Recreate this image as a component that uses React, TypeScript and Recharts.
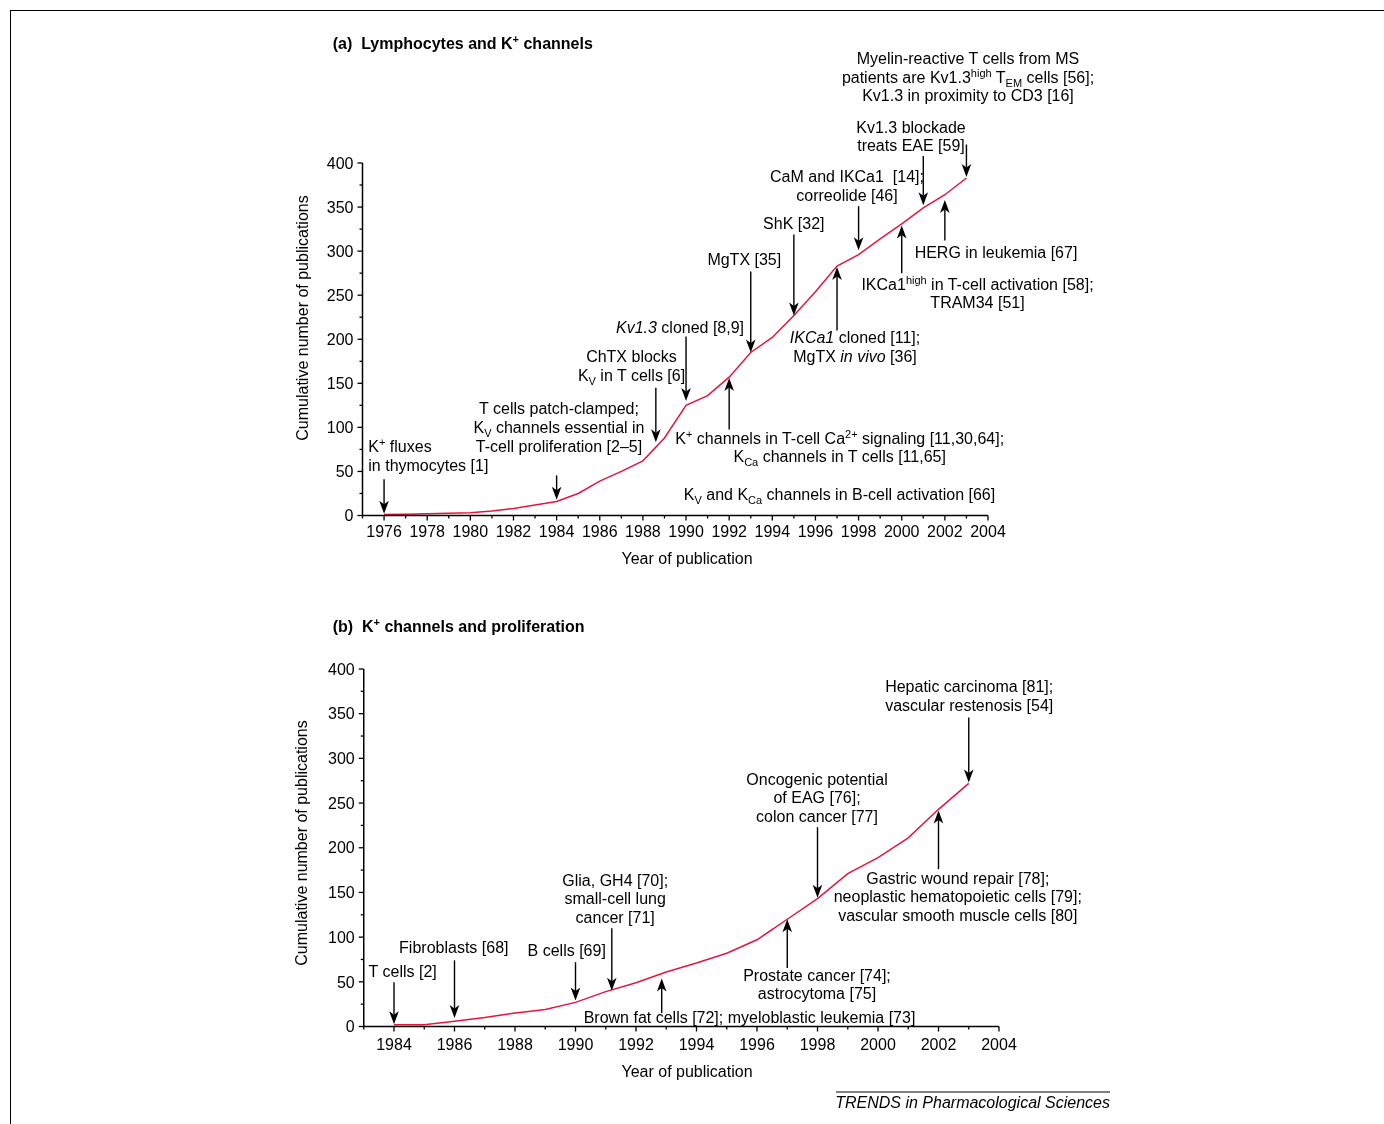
import React from 'react';
import { LineChart, Line, XAxis, YAxis, ReferenceLine } from 'recharts';

// ---------- data ----------
const yearsA = [1976, 1977, 1978, 1979, 1980, 1981, 1982, 1983, 1984, 1985, 1986, 1987, 1988, 1989, 1990, 1991, 1992, 1993, 1994, 1995, 1996, 1997, 1998, 1999, 2000, 2001, 2002, 2003];
const countsA = [1, 1.5, 2, 2.5, 3, 5, 8, 12, 16, 25, 39, 50, 62, 88, 125, 136, 157, 185, 202, 227, 254, 283, 296, 314, 331, 349, 364, 383];

const yearsB = [1984, 1985, 1986, 1987, 1988, 1989, 1990, 1991, 1992, 1993, 1994, 1995, 1996, 1997, 1998, 1999, 2000, 2001, 2002, 2003];
const countsB = [2, 2, 6, 10, 15, 19, 27, 39, 49, 61, 71, 82, 97, 120, 143, 171, 189, 211, 243, 272];

const xTicksA = [1975, 1976, 1977, 1978, 1979, 1980, 1981, 1982, 1983, 1984, 1985, 1986, 1987, 1988, 1989, 1990, 1991, 1992, 1993, 1994, 1995, 1996, 1997, 1998, 1999, 2000, 2001, 2002, 2003, 2004];
const xTicksB = [1983, 1984, 1985, 1986, 1987, 1988, 1989, 1990, 1991, 1992, 1993, 1994, 1995, 1996, 1997, 1998, 1999, 2000, 2001, 2002, 2003, 2004];
const yTicks = [0, 25, 50, 75, 100, 125, 150, 175, 200, 225, 250, 275, 300, 325, 350, 375, 400];

// annotation arrows: year, tail value, tip value
const arrowYearsA = [1976, 1984, 1988.6, 1990, 1992, 1993, 1995, 1997, 1998, 2000, 2001, 2002, 2003];
const arrowTailsA = [41, 45.5, 145, 203, 97.5, 277, 319, 210, 351, 275, 408, 312, 421];
const arrowTipsA = [2, 18, 83, 130, 156, 185, 227, 282, 301, 329, 352, 358, 384];

const arrowYearsB = [1984, 1986, 1990, 1991.2, 1992.85, 1997, 1998, 2002, 2003];
const arrowTailsB = [49.4, 74, 72, 110, 15, 65.5, 223, 176, 345.7];
const arrowTipsB = [2.6, 9.4, 29, 40, 53.6, 120, 144, 241.6, 273];

const dataA = yearsA.map((y, i) => ({ year: y, count: countsA[i] }));
const dataB = yearsB.map((y, i) => ({ year: y, count: countsB[i] }));

// ---------- styling ----------
const FONT = '"Liberation Sans", Arial, Helvetica, sans-serif';
const RED = '#e3173e';
const FS = 16;

const makeXTick = (labelOffset: number) => (props: any) => {
  const { x, y, payload } = props;
  const major = payload.value % 2 === 0;
  return (
    <g>
      <line x1={x} x2={x} y1={y} y2={y + (major ? 5 : 3)} stroke="#000" strokeWidth={1.3} />
      {major && (
        <text x={x} y={y + labelOffset} textAnchor="middle" fontSize={FS} fontFamily={FONT} fill="#000">
          {payload.value}
        </text>
      )}
    </g>
  );
};

const YTick = (props: any) => {
  const { x, y, payload } = props;
  const major = payload.value % 50 === 0;
  return (
    <g>
      <line x1={x} x2={x - (major ? 5 : 3)} y1={y} y2={y} stroke="#000" strokeWidth={1.3} />
      {major && (
        <text x={x - 9} y={y + 5.7} textAnchor="end" fontSize={FS} fontFamily={FONT} fill="#000">
          {payload.value}
        </text>
      )}
    </g>
  );
};

const arrowShape = (p: any) => {
  const { x1, y1, x2, y2 } = p;
  const dir = y2 > y1 ? 1 : -1;
  const L = 13, W = 4.8, N = 9.5;
  const pts = `${x2},${y2} ${x2 - W},${y2 - dir * L} ${x2},${y2 - dir * N} ${x2 + W},${y2 - dir * L}`;
  return (
    <g>
      <line x1={x1} y1={y1} x2={x2} y2={y2 - dir * N} stroke="#000" strokeWidth={1.4} />
      <polygon points={pts} fill="#000" />
    </g>
  );
};

const axisLine = { stroke: '#000', strokeWidth: 1.5 };

const T = (props: any) => (
  <text fontFamily={FONT} fontSize={FS} fill="#000" textAnchor="middle" xmlSpace="preserve" {...props} />
);
const Sup = ({ children }: any) => (
  <tspan fontSize={11} dy={-6}>{children}</tspan>
);
const Sub = ({ children }: any) => (
  <tspan fontSize={11} dy={4}>{children}</tspan>
);

function Overlay() {
  return (
    <svg width={1368} height={1108} style={{ position: 'absolute', left: 0, top: 0, pointerEvents: 'none', overflow: 'visible' }}>
      <g transform="translate(-8,-8)">
        {/* ---------- panel (a) ---------- */}
        <T x={332.7} y={48.5} textAnchor="start" fontWeight="bold">
          (a)  Lymphocytes and K<Sup>+</Sup><tspan dy={6}> channels</tspan>
        </T>
        <T x={368.3} y={452} textAnchor="start">K<Sup>+</Sup><tspan dy={6}> fluxes</tspan></T>
        <T x={368.3} y={470.5} textAnchor="start">in thymocytes [1]</T>

        <T x={559} y={414}>T cells patch-clamped;</T>
        <T x={559} y={432.7}>K<Sub>V</Sub><tspan dy={-4}> channels essential in</tspan></T>
        <T x={559} y={451.5}>T-cell proliferation [2–5]</T>

        <T x={631.5} y={362}>ChTX blocks</T>
        <T x={631.5} y={380.7}>K<Sub>V</Sub><tspan dy={-4}> in T cells [6]</tspan></T>

        <T x={680} y={332.7}><tspan fontStyle="italic">Kv1.3</tspan> cloned [8,9]</T>
        <T x={744.3} y={265}>MgTX [35]</T>
        <T x={793.8} y={229}>ShK [32]</T>

        <T x={847} y={181.7}>CaM and IKCa1  [14];</T>
        <T x={847} y={200.5}>correolide [46]</T>

        <T x={855} y={343.3}><tspan fontStyle="italic">IKCa1</tspan> cloned [11];</T>
        <T x={855} y={361.7}>MgTX <tspan fontStyle="italic">in vivo</tspan> [36]</T>

        <T x={977.5} y={290}>IKCa1<Sup>high</Sup><tspan dy={6}> in T-cell activation [58];</tspan></T>
        <T x={977.5} y={307.7}>TRAM34 [51]</T>

        <T x={996} y={258}>HERG in leukemia [67]</T>

        <T x={839.7} y={444}>K<Sup>+</Sup><tspan dy={6}> channels in T-cell Ca</tspan><Sup>2+</Sup><tspan dy={6}> signaling [11,30,64];</tspan></T>
        <T x={839.7} y={462.2}>K<Sub>Ca</Sub><tspan dy={-4}> channels in T cells [11,65]</tspan></T>

        <T x={839.5} y={500}>K<Sub>V</Sub><tspan dy={-4}> and K</tspan><Sub>Ca</Sub><tspan dy={-4}> channels in B-cell activation [66]</tspan></T>

        <T x={911} y={132.5}>Kv1.3 blockade</T>
        <T x={911} y={151}>treats EAE [59]</T>

        <T x={968} y={64}>Myelin-reactive T cells from MS</T>
        <T x={968} y={82.5}>patients are Kv1.3<Sup>high</Sup><tspan dy={6}> T</tspan><Sub>EM</Sub><tspan dy={-4}> cells [56];</tspan></T>
        <T x={968} y={101}>Kv1.3 in proximity to CD3 [16]</T>

        <T x={0} y={0} transform="translate(307.5,318) rotate(-90)">Cumulative number of publications</T>
        <T x={687} y={564}>Year of publication</T>

        {/* ---------- panel (b) ---------- */}
        <T x={332.7} y={631.5} textAnchor="start" fontWeight="bold">
          (b)  K<Sup>+</Sup><tspan dy={6}> channels and proliferation</tspan>
        </T>
        <T x={402.7} y={977.3}>T cells [2]</T>
        <T x={453.8} y={952.7}>Fibroblasts [68]</T>
        <T x={566.7} y={955.5}>B cells [69]</T>
        <T x={615.2} y={885.7}>Glia, GH4 [70];</T>
        <T x={615.2} y={904.2}>small-cell lung</T>
        <T x={615.2} y={922.7}>cancer [71]</T>
        <T x={749.5} y={1022.7}>Brown fat cells [72]; myeloblastic leukemia [73]</T>
        <T x={817} y={980.7}>Prostate cancer [74];</T>
        <T x={817} y={999.3}>astrocytoma [75]</T>
        <T x={817} y={785}>Oncogenic potential</T>
        <T x={817} y={803}>of EAG [76];</T>
        <T x={817} y={821.7}>colon cancer [77]</T>
        <T x={957.8} y={884}>Gastric wound repair [78];</T>
        <T x={957.8} y={902.3}>neoplastic hematopoietic cells [79];</T>
        <T x={957.8} y={921.3}>vascular smooth muscle cells [80]</T>
        <T x={969.2} y={691.7}>Hepatic carcinoma [81];</T>
        <T x={969.2} y={710.7}>vascular restenosis [54]</T>

        <T x={0} y={0} transform="translate(307,843) rotate(-90)">Cumulative number of publications</T>
        <T x={687} y={1077}>Year of publication</T>

        <line x1={836} x2={1110} y1={1092} y2={1092} stroke="#000" strokeWidth={1} />
        <T x={1110} y={1107.5} textAnchor="end" fontStyle="italic">TRENDS in Pharmacological Sciences</T>
      </g>
    </svg>
  );
}

export default function App() {
  return (
    <div style={{ position: 'relative', width: 1368, height: 1108, background: '#fff', fontFamily: FONT, overflow: 'hidden' }}>
      <div
        style={{
          position: 'fixed',
          left: 9.5,
          top: 9.5,
          width: 1400,
          height: 1200,
          borderTop: '1.5px solid #000',
          borderLeft: '1.5px solid #000',
          pointerEvents: 'none',
        }}
      />
      <div style={{ position: 'absolute', left: 0, top: 0 }}>
        <LineChart width={1368} height={600} data={dataA} margin={{ top: 155, right: 388, bottom: 62.5, left: 304.5 }}>
          <XAxis
            dataKey="year"
            type="number"
            domain={[1975, 2004]}
            ticks={xTicksA}
            interval={0}
            allowDataOverflow
            height={30}
            tickSize={0}
            tickMargin={0}
            tickLine={false}
            axisLine={axisLine}
            tick={makeXTick(21)}
          />
          <YAxis
            type="number"
            domain={[0, 400]}
            ticks={yTicks}
            interval={0}
            width={50}
            tickSize={0}
            tickMargin={0}
            tickLine={false}
            axisLine={axisLine}
            tick={YTick}
          />
          <Line dataKey="count" type="linear" stroke={RED} strokeWidth={1.5} dot={false} isAnimationActive={false} />
          {arrowYearsA.map((yr, i) => (
            <ReferenceLine
              key={'a' + i}
              segment={[{ x: yr, y: arrowTailsA[i] }, { x: yr, y: arrowTipsA[i] }]}
              ifOverflow="visible"
              shape={arrowShape}
            />
          ))}
        </LineChart>
      </div>
      <div style={{ position: 'absolute', left: 0, top: 600 }}>
        <LineChart width={1368} height={500} data={dataB} margin={{ top: 61, right: 377, bottom: 51.5, left: 305.75 }}>
          <XAxis
            dataKey="year"
            type="number"
            domain={[1983, 2004]}
            ticks={xTicksB}
            interval={0}
            allowDataOverflow
            height={30}
            tickSize={0}
            tickMargin={0}
            tickLine={false}
            axisLine={axisLine}
            tick={makeXTick(23.5)}
          />
          <YAxis
            type="number"
            domain={[0, 400]}
            ticks={yTicks}
            interval={0}
            width={50}
            tickSize={0}
            tickMargin={0}
            tickLine={false}
            axisLine={axisLine}
            tick={YTick}
          />
          <Line dataKey="count" type="linear" stroke={RED} strokeWidth={1.5} dot={false} isAnimationActive={false} />
          {arrowYearsB.map((yr, i) => (
            <ReferenceLine
              key={'b' + i}
              segment={[{ x: yr, y: arrowTailsB[i] }, { x: yr, y: arrowTipsB[i] }]}
              ifOverflow="visible"
              shape={arrowShape}
            />
          ))}
        </LineChart>
      </div>
      <Overlay />
    </div>
  );
}
